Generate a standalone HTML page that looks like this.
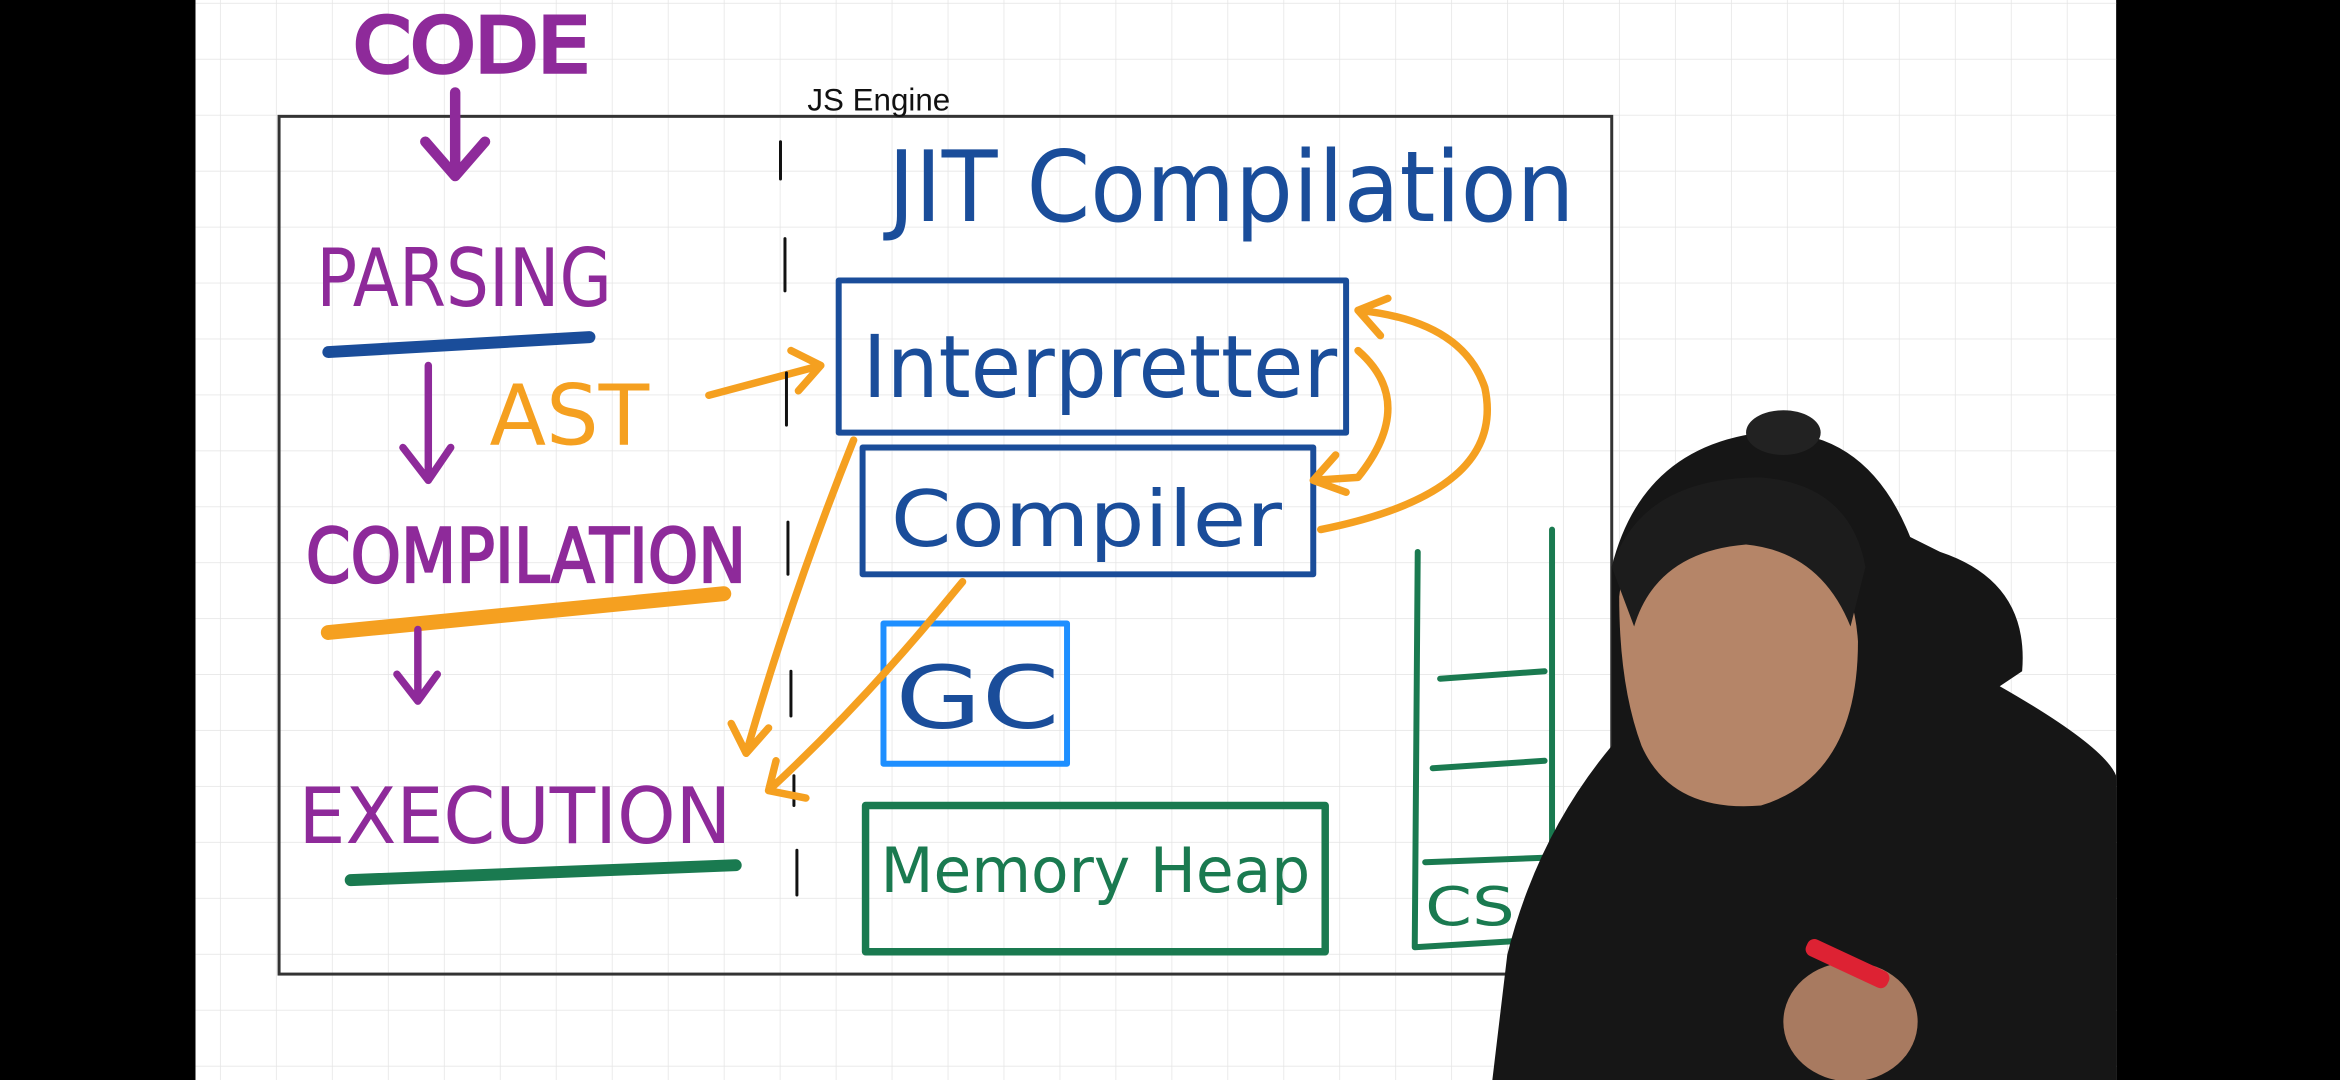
<!DOCTYPE html>
<html><head><style>
html,body{margin:0;padding:0;background:#000;width:2340px;height:1080px;overflow:hidden}
svg{display:block}
.h{font-family:"DejaVu Sans","Liberation Sans",sans-serif;}
</style></head><body>
<svg width="2340" height="1080" viewBox="0 0 1568 724" preserveAspectRatio="none" xmlns="http://www.w3.org/2000/svg">
<defs>
<pattern id="g" x="148" y="2.5" width="37.5" height="37.5" patternUnits="userSpaceOnUse">
<path d="M37.5 0V37.5M0 37.5H37.5" stroke="#e4e4e4" stroke-width="1" fill="none"/>
</pattern>
</defs>
<rect x="0" y="0" width="1568" height="724" fill="#000"/>
<rect x="131" y="0" width="1287" height="724" fill="#fff"/>
<rect x="131" y="0" width="1287" height="724" fill="url(#g)"/>
<rect x="187" y="78" width="893" height="575" fill="none" stroke="#333" stroke-width="2"/>
<text x="541" y="74" font-family="Liberation Sans,sans-serif" font-size="21" fill="#111">JS Engine</text>

<g class="h">
<text x="237" y="48" font-size="50" fill="#8e2a9a" stroke="#8e2a9a" stroke-width="3" textLength="158" lengthAdjust="spacingAndGlyphs">CODE</text>
<text x="212" y="205" font-size="54" fill="#8e2a9a" textLength="198" lengthAdjust="spacingAndGlyphs">PARSING</text>
<text x="328" y="298" font-size="56" fill="#f5a020" textLength="107" lengthAdjust="spacingAndGlyphs">AST</text>
<text x="205" y="390" font-size="50" fill="#8e2a9a" stroke="#8e2a9a" stroke-width="1.5" textLength="295" lengthAdjust="spacingAndGlyphs">COMPILATION</text>
<text x="200" y="565" font-size="52" fill="#8e2a9a" textLength="290" lengthAdjust="spacingAndGlyphs">EXECUTION</text>
<text x="595" y="148" font-size="66" fill="#1a4d9a" textLength="460" lengthAdjust="spacingAndGlyphs">JIT Compilation</text>
<text x="578" y="266" font-size="58" fill="#1a4d9a" textLength="318" lengthAdjust="spacingAndGlyphs">Interpretter</text>
<text x="597" y="366" font-size="52" fill="#1a4d9a" textLength="262" lengthAdjust="spacingAndGlyphs">Compiler</text>
<text x="600" y="488" font-size="58" fill="#1a4d9a" textLength="110" lengthAdjust="spacingAndGlyphs">GC</text>
<text x="590" y="598" font-size="42" fill="#1a7a50" textLength="288" lengthAdjust="spacingAndGlyphs">Memory Heap</text>
<text x="955" y="620" font-size="36" fill="#1a7a50" textLength="60" lengthAdjust="spacingAndGlyphs">CS</text>
</g>

<g fill="none" stroke-linecap="round" stroke-linejoin="round">
<path d="M305 62 L305 118 M285 95 L305 118 L325 95" stroke="#8e2a9a" stroke-width="7"/>
<path d="M220 236 L395 226" stroke="#1a4d9a" stroke-width="8"/>
<path d="M287 245 L287 322 M270 300 L287 322 L302 300" stroke="#8e2a9a" stroke-width="5"/>
<path d="M475 265 L550 245 M530 235 L550 245 L535 262" stroke="#f5a020" stroke-width="5"/>
<path d="M220 424 L485 398" stroke="#f5a020" stroke-width="10"/>
<path d="M280 422 L280 470 M266 452 L280 470 L293 452" stroke="#8e2a9a" stroke-width="5"/>
<path d="M235 590 L493 580" stroke="#1a7a50" stroke-width="8"/>
<path d="M523 95 L523 120 M526 160 L526 195 M527 250 L527 285 M528 350 L528 385 M530 450 L530 480 M532 520 L532 540 M534 570 L534 600" stroke="#111" stroke-width="2"/>
<rect x="562" y="188" width="340" height="102" stroke="#1a4d9a" stroke-width="4"/>
<rect x="578" y="300" width="302" height="85" stroke="#1a4d9a" stroke-width="4"/>
<rect x="592" y="418" width="123" height="94" stroke="#1e8fff" stroke-width="4"/>
<rect x="580" y="540" width="308" height="98" stroke="#1a7a50" stroke-width="5"/>
<path d="M950 370 L948 635 L1030 630 M1040 355 L1040 630 M965 455 L1035 450 M960 515 L1035 510 M955 578 L1035 575" stroke="#1a7a50" stroke-width="4"/>
<path d="M572 295 Q530 400 500 505 M490 485 L500 505 L515 488" stroke="#f5a020" stroke-width="5"/>
<path d="M645 390 Q580 470 515 530 M520 510 L515 530 L540 535" stroke="#f5a020" stroke-width="5"/>
<path d="M910 235 Q950 270 910 320 L880 322 M895 305 L880 322 L902 330" stroke="#f5a020" stroke-width="5"/>
<path d="M885 355 Q1010 330 995 260 Q980 215 910 208 M930 200 L910 208 L925 225" stroke="#f5a020" stroke-width="5"/>
</g>

<path d="M1000 724 L1010 640 Q1030 560 1080 500 L1080 380 Q1100 300 1180 290 Q1250 285 1280 360 L1300 370 Q1360 390 1355 450 L1340 460 Q1410 500 1418 520 L1418 724 Z" fill="#161616"/>
<ellipse cx="1195" cy="290" rx="25" ry="15" fill="#222"/>
<path d="M1085 400 Q1090 350 1170 350 Q1240 355 1245 430 Q1245 520 1180 540 Q1120 545 1100 500 Q1085 460 1085 400 Z" fill="#b58568"/>
<path d="M1080 380 Q1100 320 1180 320 Q1240 325 1250 380 L1240 420 Q1220 370 1170 365 Q1110 370 1095 420 Z" fill="#1c1c1c"/>
<ellipse cx="1240" cy="685" rx="45" ry="40" fill="#a87a60"/>
<rect x="1208" y="640" width="60" height="12" rx="5" fill="#d23" transform="rotate(25 1238 646)"/>
</svg>
</body></html>
